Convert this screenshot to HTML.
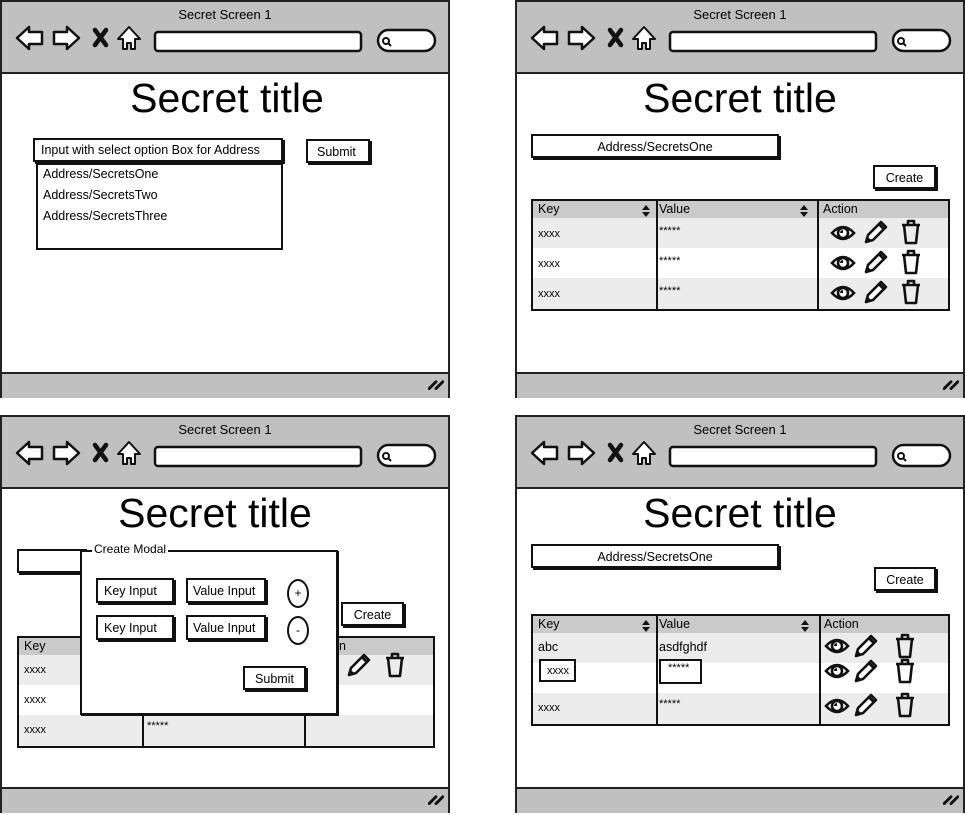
<!DOCTYPE html>
<html><head><meta charset="utf-8"><style>
body{margin:0;width:965px;height:815px;background:#fff;position:relative;overflow:hidden;font-family:"Liberation Sans",sans-serif;color:#000}
.w{position:absolute;width:446px;height:394px;border:2px solid #222;background:#fff}
.hd{position:absolute;left:0;top:0;width:446px;height:70px;background:#c0c0c0;border-bottom:2px solid #222}
.ft{position:absolute;left:0;top:370px;width:446px;height:24px;background:#c0c0c0;border-top:2px solid #222}
.st{position:absolute;left:0;width:446px;top:5px;text-align:center;font-size:13px}
.ti{position:absolute;top:75px;font-size:41px;line-height:42px;text-align:center;width:446px;left:0}
.a{position:absolute}
.bx{position:absolute;border:2px solid #111;background:#fff;box-shadow:2px 2px 0 #111;font-size:12.5px;box-sizing:border-box}
.tbl{position:absolute;border:2px solid #111;background:#fff;box-sizing:border-box;overflow:hidden}
.t{position:absolute;font-size:12.5px}
.sm{font-size:11px}
</style></head><body>
<svg width="0" height="0" style="position:absolute">
<defs>
<symbol id="nav" viewBox="0 0 450 75">
<path d="M17 38 L29 27 L29 32 L42 32 L42 44 L29 44 L29 49 Z" fill="#fff" stroke="#111" stroke-width="2.5" stroke-linejoin="round"/>
<path d="M79 38 L67 27 L67 32 L54 32 L54 44 L67 44 L67 49 Z" fill="#fff" stroke="#111" stroke-width="2.5" stroke-linejoin="round"/>
<path d="M95 30 L106 45 M106 30 L95 45" stroke="#111" stroke-width="4.5" stroke-linecap="round"/>
<path d="M129 27 L140 39 L135 39 L135 49 L131 49 L131 43 L127 43 L127 49 L123 49 L123 39 L118 39 Z" fill="#fff" stroke="#111" stroke-width="2" stroke-linejoin="round"/>
<rect x="155" y="32" width="206" height="19" rx="3" fill="#fff" stroke="#111" stroke-width="2.5"/>
<rect x="378" y="30" width="57" height="21" rx="10.5" fill="#fff" stroke="#111" stroke-width="2.5"/>
<circle cx="386" cy="41" r="3" fill="none" stroke="#111" stroke-width="2"/>
<path d="M388 43 L391 46" stroke="#111" stroke-width="2"/>
</symbol>
<symbol id="grip" viewBox="0 0 14 10"><path d="M1 9 L7 3 M7 9 L13 3" stroke="#111" stroke-width="2.5" stroke-linecap="round"/></symbol>
<symbol id="eye" viewBox="0 0 26 20"><path d="M2 10 Q13 -2 24 10 Q13 22 2 10 Z" fill="#fff" stroke="#111" stroke-width="2.6"/><circle cx="13" cy="10" r="5" fill="#fff" stroke="#111" stroke-width="2.6"/><path d="M10 10 A3 3 0 0 1 13 7 L13 10 Z" fill="#111"/></symbol>
<symbol id="pen" viewBox="0 0 26 26"><path d="M3 23 L5 16 L18 3 L23 8 L10 21 Z" fill="#fff" stroke="#111" stroke-width="2.6" stroke-linejoin="round"/><path d="M16 5 L21 10" stroke="#111" stroke-width="3"/><path d="M3 23 L5 18 L8 21 Z" fill="#111"/></symbol>
<symbol id="bin" viewBox="0 0 22 26"><path d="M2 6 L20 6 M8 6 L8 2 L14 2 L14 6 M4 6 L6 24 L16 24 L18 6" fill="none" stroke="#111" stroke-width="2.6" stroke-linejoin="round"/></symbol>
<symbol id="sort" viewBox="0 0 10 14"><path d="M1 6 L5 1 L9 6 Z M1 8 L5 13 L9 8 Z" fill="#111"/></symbol>
</defs></svg>

<!-- Window 1 -->
<div class="w" style="left:0;top:0">
<div class="hd"></div><div class="st">Secret Screen 1</div>
<svg class="a" style="left:-2px;top:-2px" width="450" height="75"><use href="#nav"/></svg>
<div class="ti" style="left:2px">Secret title</div>
<div class="bx" style="left:31px;top:136px;width:250px;height:24px;padding:3px 0 0 6px">Input with select option Box for Address</div>
<div class="bx" style="left:304px;top:137px;width:64px;height:24px;padding:4px 0 0 9px">Submit</div>
<div class="bx" style="left:34px;top:161px;width:247px;height:87px;box-shadow:none"></div>
<div class="t" style="left:41px;top:165px">Address/SecretsOne</div>
<div class="t" style="left:41px;top:186px">Address/SecretsTwo</div>
<div class="t" style="left:41px;top:207px">Address/SecretsThree</div>
<div class="ft"></div>
<svg class="a" style="left:426px;top:376px" width="16" height="12"><use href="#grip"/></svg>
</div>

<!-- Window 2 -->
<div class="w" style="left:515px;top:0">
<div class="hd"></div><div class="st">Secret Screen 1</div>
<svg class="a" style="left:-2px;top:-2px" width="450" height="75"><use href="#nav"/></svg>
<div class="ti">Secret title</div>
<div class="bx" style="left:14px;top:132px;width:248px;height:24px;text-align:center;padding-top:4px">Address/SecretsOne</div>
<div class="bx" style="left:356px;top:163px;width:63px;height:24px;text-align:center;padding-top:4px">Create</div>
<div class="tbl" style="left:14px;top:197px;width:419px;height:112px">
 <div class="a" style="left:0;top:0;width:419px;height:17px;background:#cacaca"></div>
 <div class="a" style="left:0;top:17px;width:419px;height:30px;background:#ececec"></div>
 <div class="a" style="left:0;top:77px;width:419px;height:31px;background:#ececec"></div>
 <div class="a" style="left:123px;top:0;width:2px;height:112px;background:#111"></div>
 <div class="a" style="left:284px;top:0;width:2px;height:112px;background:#111"></div>
 <div class="t" style="left:5px;top:1px">Key</div><svg class="a" style="left:108px;top:3px" width="10" height="14"><use href="#sort"/></svg>
 <div class="t" style="left:126px;top:1px">Value</div><svg class="a" style="left:266px;top:3px" width="10" height="14"><use href="#sort"/></svg>
 <div class="t" style="left:290px;top:1px">Action</div>
 <div class="t sm" style="left:5px;top:27px">xxxx</div><div class="t sm" style="left:126px;top:24px">*****</div>
 <div class="t sm" style="left:5px;top:57px">xxxx</div><div class="t sm" style="left:126px;top:54px">*****</div>
 <div class="t sm" style="left:5px;top:87px">xxxx</div><div class="t sm" style="left:126px;top:84px">*****</div>
 <svg class="a" style="left:297px;top:22px" width="26" height="20"><use href="#eye"/></svg><svg class="a" style="left:330px;top:18px" width="26" height="26"><use href="#pen"/></svg><svg class="a" style="left:367px;top:18px" width="22" height="26"><use href="#bin"/></svg>
 <svg class="a" style="left:297px;top:52px" width="26" height="20"><use href="#eye"/></svg><svg class="a" style="left:330px;top:48px" width="26" height="26"><use href="#pen"/></svg><svg class="a" style="left:367px;top:48px" width="22" height="26"><use href="#bin"/></svg>
 <svg class="a" style="left:297px;top:82px" width="26" height="20"><use href="#eye"/></svg><svg class="a" style="left:330px;top:78px" width="26" height="26"><use href="#pen"/></svg><svg class="a" style="left:367px;top:78px" width="22" height="26"><use href="#bin"/></svg>
</div>
<div class="ft"></div>
<svg class="a" style="left:426px;top:376px" width="16" height="12"><use href="#grip"/></svg>
</div>

<!-- Window 3 -->
<div class="w" style="left:0;top:415px">
<div class="hd"></div><div class="st">Secret Screen 1</div>
<svg class="a" style="left:-2px;top:-2px" width="450" height="75"><use href="#nav"/></svg>
<div class="ti" style="left:-10px">Secret title</div>
<div class="bx" style="left:15px;top:132px;width:70px;height:24px"></div>
<div class="bx" style="left:339px;top:185px;width:63px;height:24px;text-align:center;padding-top:4px">Create</div>
<div class="tbl" style="left:15px;top:219px;width:418px;height:112px">
 <div class="a" style="left:0;top:0;width:418px;height:17px;background:#cacaca"></div>
 <div class="a" style="left:0;top:17px;width:418px;height:30px;background:#ececec"></div>
 <div class="a" style="left:0;top:77px;width:418px;height:31px;background:#ececec"></div>
 <div class="a" style="left:123px;top:0;width:2px;height:112px;background:#111"></div>
 <div class="a" style="left:285px;top:0;width:2px;height:112px;background:#111"></div>
 <div class="t" style="left:5px;top:1px">Key</div>
 <div class="t" style="left:320px;top:1px">n</div>
 <div class="t sm" style="left:5px;top:26px">xxxx</div>
 <div class="t sm" style="left:5px;top:56px">xxxx</div>
 <div class="t sm" style="left:5px;top:86px">xxxx</div><div class="t sm" style="left:128px;top:82px">*****</div>
 <svg class="a" style="left:327px;top:14px" width="26" height="26"><use href="#pen"/></svg><svg class="a" style="left:365px;top:14px" width="22" height="26"><use href="#bin"/></svg>
</div>
<div class="a" style="left:78px;top:133px;width:254px;height:161px;border:2px solid #111;background:#fff;box-shadow:1px 1px 0 #111"></div>
<div class="t" style="left:90px;top:125px;background:#fff;padding:0 2px;font-size:12px">Create Modal</div>
<div class="bx" style="left:94px;top:161px;width:78px;height:25px;padding:4px 0 0 6px">Key Input</div>
<div class="bx" style="left:184px;top:161px;width:80px;height:25px;padding:4px 0 0 5px">Value Input</div>
<div class="bx" style="left:94px;top:198px;width:78px;height:25px;padding:4px 0 0 6px">Key Input</div>
<div class="bx" style="left:184px;top:198px;width:80px;height:25px;padding:4px 0 0 5px">Value Input</div>
<div class="a" style="left:285px;top:162px;width:18px;height:25px;border:2px solid #111;border-radius:50%;text-align:center;line-height:25px;font-size:12px">+</div>
<div class="a" style="left:285px;top:199px;width:18px;height:25px;border:2px solid #111;border-radius:50%;text-align:center;line-height:25px;font-size:12px">-</div>
<div class="bx" style="left:241px;top:249px;width:63px;height:24px;text-align:center;padding-top:4px">Submit</div>
<div class="ft"></div>
<svg class="a" style="left:426px;top:376px" width="16" height="12"><use href="#grip"/></svg>
</div>

<!-- Window 4 -->
<div class="w" style="left:515px;top:415px">
<div class="hd"></div><div class="st">Secret Screen 1</div>
<svg class="a" style="left:-2px;top:-2px" width="450" height="75"><use href="#nav"/></svg>
<div class="ti">Secret title</div>
<div class="bx" style="left:14px;top:127px;width:248px;height:24px;text-align:center;padding-top:4px">Address/SecretsOne</div>
<div class="bx" style="left:357px;top:150px;width:62px;height:24px;text-align:center;padding-top:4px">Create</div>
<div class="tbl" style="left:14px;top:197px;width:419px;height:112px">
 <div class="a" style="left:0;top:0;width:419px;height:17px;background:#cacaca"></div>
 <div class="a" style="left:0;top:17px;width:419px;height:30px;background:#ececec"></div>
 <div class="a" style="left:0;top:77px;width:419px;height:31px;background:#ececec"></div>
 <div class="a" style="left:123px;top:0;width:2px;height:112px;background:#111"></div>
 <div class="a" style="left:286px;top:0;width:2px;height:112px;background:#111"></div>
 <div class="t" style="left:5px;top:1px">Key</div><svg class="a" style="left:108px;top:3px" width="10" height="14"><use href="#sort"/></svg>
 <div class="t" style="left:126px;top:1px">Value</div><svg class="a" style="left:267px;top:3px" width="10" height="14"><use href="#sort"/></svg>
 <div class="t" style="left:291px;top:1px">Action</div>
 <div class="t" style="left:5px;top:24px">abc</div><div class="t" style="left:126px;top:24px">asdfghdf</div>
 <div class="bx" style="left:6px;top:43px;width:37px;height:23px;box-shadow:none;font-size:11px;padding:4px 0 0 6px">xxxx</div>
 <div class="bx" style="left:126px;top:43px;width:43px;height:25px;box-shadow:none;font-size:11px;padding:1px 0 0 7px">*****</div>
 <div class="t sm" style="left:5px;top:86px">xxxx</div><div class="t sm" style="left:126px;top:82px">*****</div>
 <svg class="a" style="left:291px;top:20px" width="26" height="20"><use href="#eye"/></svg><svg class="a" style="left:320px;top:17px" width="26" height="26"><use href="#pen"/></svg><svg class="a" style="left:361px;top:17px" width="22" height="26"><use href="#bin"/></svg>
 <svg class="a" style="left:291px;top:45px" width="26" height="20"><use href="#eye"/></svg><svg class="a" style="left:320px;top:42px" width="26" height="26"><use href="#pen"/></svg><svg class="a" style="left:361px;top:42px" width="22" height="26"><use href="#bin"/></svg>
 <svg class="a" style="left:291px;top:80px" width="26" height="20"><use href="#eye"/></svg><svg class="a" style="left:320px;top:76px" width="26" height="26"><use href="#pen"/></svg><svg class="a" style="left:361px;top:76px" width="22" height="26"><use href="#bin"/></svg>
</div>
<div class="ft"></div>
<svg class="a" style="left:426px;top:376px" width="16" height="12"><use href="#grip"/></svg>
</div>
</body></html>
